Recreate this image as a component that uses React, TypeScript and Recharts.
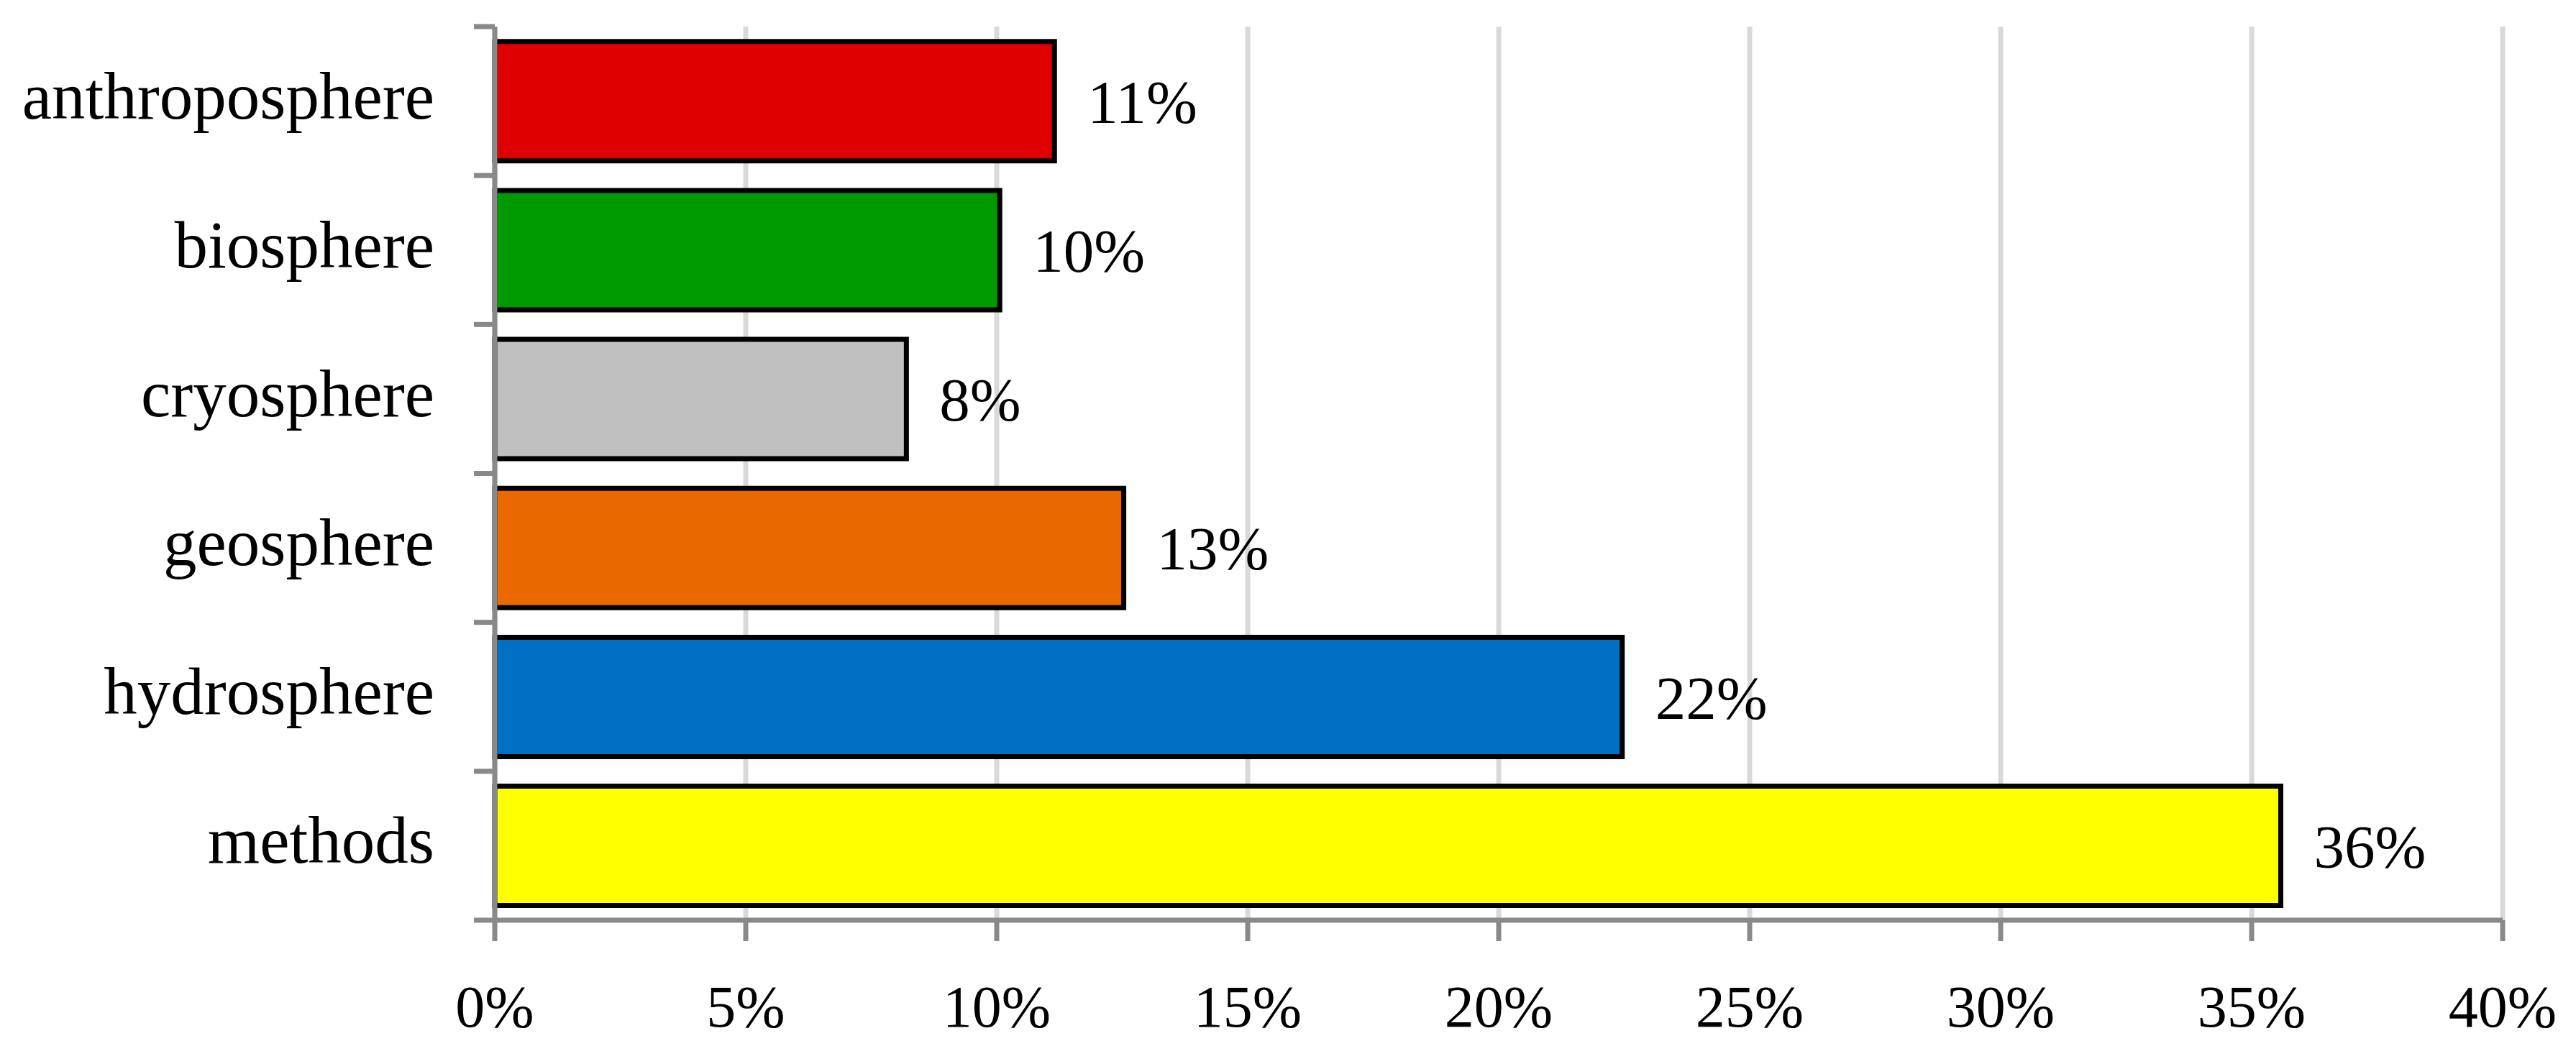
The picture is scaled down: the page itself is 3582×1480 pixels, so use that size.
import React from 'react';
import { BarChart, Bar, XAxis, YAxis, CartesianGrid, Cell, LabelList } from 'recharts';

const categories = ['anthroposphere', 'biosphere', 'cryosphere', 'geosphere', 'hydrosphere', 'methods'];
const shares = [11.15, 10.06, 8.2, 12.53, 22.46, 35.58];
const barColors = ['#E00000', '#009900', '#C0C0C0', '#E96800', '#0070C4', '#FFFF00'];
const xTicks = [0, 5, 10, 15, 20, 25, 30, 35, 40];

const data = categories.map((c, i) => ({ category: c, value: shares[i], color: barColors[i] }));

const FONT = '"Liberation Serif", "Times New Roman", serif';
const AXIS_GRAY = '#898989';

const CHART_W = 3582;
const CHART_H = 1480;
const MARGIN_TOP = 37;
const X_AXIS_H = 200;
const Y_AXIS_W = 688;
const LEFT_MARGIN = 84;
const TICK_LEN = 29;
const BAND = (CHART_H - MARGIN_TOP - X_AXIS_H) / categories.length;

const CatTick = (props: any) => {
  const { x, y, payload, index } = props;
  const axisX = x + LEFT_MARGIN;
  const half = BAND / 2;
  return (
    <g>
      {index === 0 && (
        <line x1={axisX - TICK_LEN} x2={axisX} y1={y - half} y2={y - half} stroke={AXIS_GRAY} strokeWidth={7} />
      )}
      <line x1={axisX - TICK_LEN} x2={axisX} y1={y + half} y2={y + half} stroke={AXIS_GRAY} strokeWidth={7} />
      <text x={x} y={y} dy={24} textAnchor="end" fontFamily={FONT} fontSize={93} fill="#000">
        {payload.value}
      </text>
    </g>
  );
};

export default function App() {
  return (
    <div style={{ position: 'absolute', left: 0, top: 0, background: '#fff' }}>
      <BarChart
        width={CHART_W}
        height={CHART_H}
        data={data}
        layout="vertical"
        margin={{ top: MARGIN_TOP, right: 102, bottom: 0, left: 0 }}
        barCategoryGap="10%"
      >
        <CartesianGrid horizontal={false} stroke="#d9d9d9" strokeWidth={7} />
        <XAxis
          type="number"
          domain={[0, 40]}
          ticks={xTicks}
          interval={0}
          tickFormatter={(v: number) => `${v}%`}
          height={X_AXIS_H}
          axisLine={{ stroke: AXIS_GRAY, strokeWidth: 7 }}
          tickLine={{ stroke: AXIS_GRAY, strokeWidth: 7 }}
          tickSize={29}
          tickMargin={61}
          tick={{ fill: '#000', fontSize: 82, fontFamily: FONT }}
        />
        <YAxis
          type="category"
          dataKey="category"
          width={Y_AXIS_W}
          interval={0}
          tickLine={false}
          tickSize={0}
          tickMargin={LEFT_MARGIN}
          tick={<CatTick />}
          axisLine={{ stroke: AXIS_GRAY, strokeWidth: 7 }}
        />
        <Bar dataKey="value" stroke="#000" strokeWidth={7} isAnimationActive={false}>
          {data.map((d) => (
            <Cell key={d.category} fill={d.color} />
          ))}
          <LabelList
            dataKey="value"
            position="right"
            offset={46}
            formatter={(v: any) => `${Math.round(Number(v))}%`}
            fontSize={85}
            fontFamily={FONT}
            fill="#000"
          />
        </Bar>
      </BarChart>
    </div>
  );
}
